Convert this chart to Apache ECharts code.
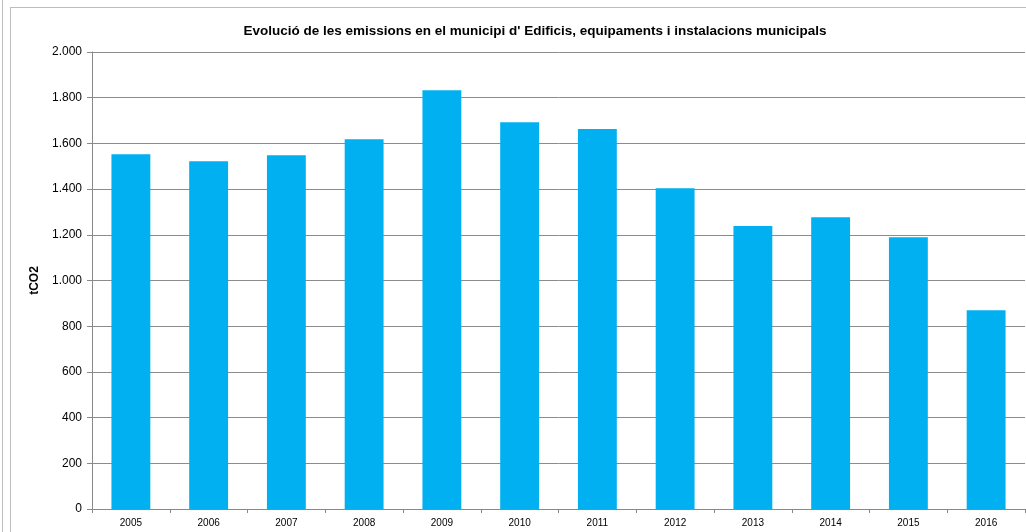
<!DOCTYPE html>
<html>
<head>
<meta charset="utf-8">
<script src="https://cdn.jsdelivr.net/npm/echarts@6/dist/echarts.min.js"></script>
<style>
  html, body { margin: 0; padding: 0; background: #fff; }
  #edge { position: absolute; left: 2px; top: 0; width: 1px; height: 532px; background: #bdbdbd; }
  #frame { position: absolute; left: 10px; top: 7px; width: 1030px; height: 540px; border: 1px solid #bdbdbd; }
  #main { position: absolute; left: 0; top: 0; width: 1026px; height: 532px; }
</style>
</head>
<body>
<div id="edge"></div>
<div id="frame"></div>
<div id="main"></div>
<script>
var years = ['2005','2006','2007','2008','2009','2010','2011','2012','2013','2014','2015','2016'];
var emissions = [1553, 1522, 1548, 1618, 1833, 1693, 1663, 1404, 1238, 1277, 1189, 870];

var myChart = echarts.init(document.getElementById('main'));
var option = {
    animation: false,
    title: {
        text: "Evolució de les emissions en el municipi d' Edificis, equipaments i instalacions municipals",
        left: 530,
        textAlign: 'center',
        top: 19,
        textStyle: { fontFamily: 'Liberation Sans', fontSize: 13.5, fontWeight: 'bold', color: '#000' }
    },
    grid: { left: 92, right: 1, top: 52, bottom: 23 },
    xAxis: [
        {
            type: 'category',
            data: years,
            axisLine: { lineStyle: { color: '#888', width: 1 } },
            axisTick: { show: true, alignWithLabel: false, length: 4, lineStyle: { color: '#888' } },
            axisLabel: { fontFamily: 'Liberation Sans', fontSize: 10, color: '#000', margin: 9 }
        }
    ],
    yAxis: [
        {
            type: 'value',
            min: 0,
            max: 2000,
            interval: 200,
            name: 'tCO2',
            nameLocation: 'middle',
            nameGap: 47,
            nameTextStyle: { fontFamily: 'Liberation Sans', fontSize: 12, fontWeight: 'bold', color: '#000' },
            axisLine: { show: true, lineStyle: { color: '#888' } },
            axisTick: { show: true, length: 5, lineStyle: { color: '#888' } },
            splitLine: { lineStyle: { color: '#8c8c8c', width: 1 } },
            axisLabel: {
                fontFamily: 'Liberation Sans', fontSize: 12, color: '#000', margin: 10,
                formatter: function (v) {
                    return v >= 1000 ? Math.floor(v / 1000) + '.' + String(v % 1000).padStart(3, '0') : String(v);
                }
            }
        }
    ],
    series: [
        {
            name: 'tCO2',
            type: 'bar',
            barWidth: '50%',
            itemStyle: { color: '#00b0f0' },
            data: emissions
        }
    ]
};
myChart.setOption(option);
</script>
</body>
</html>
